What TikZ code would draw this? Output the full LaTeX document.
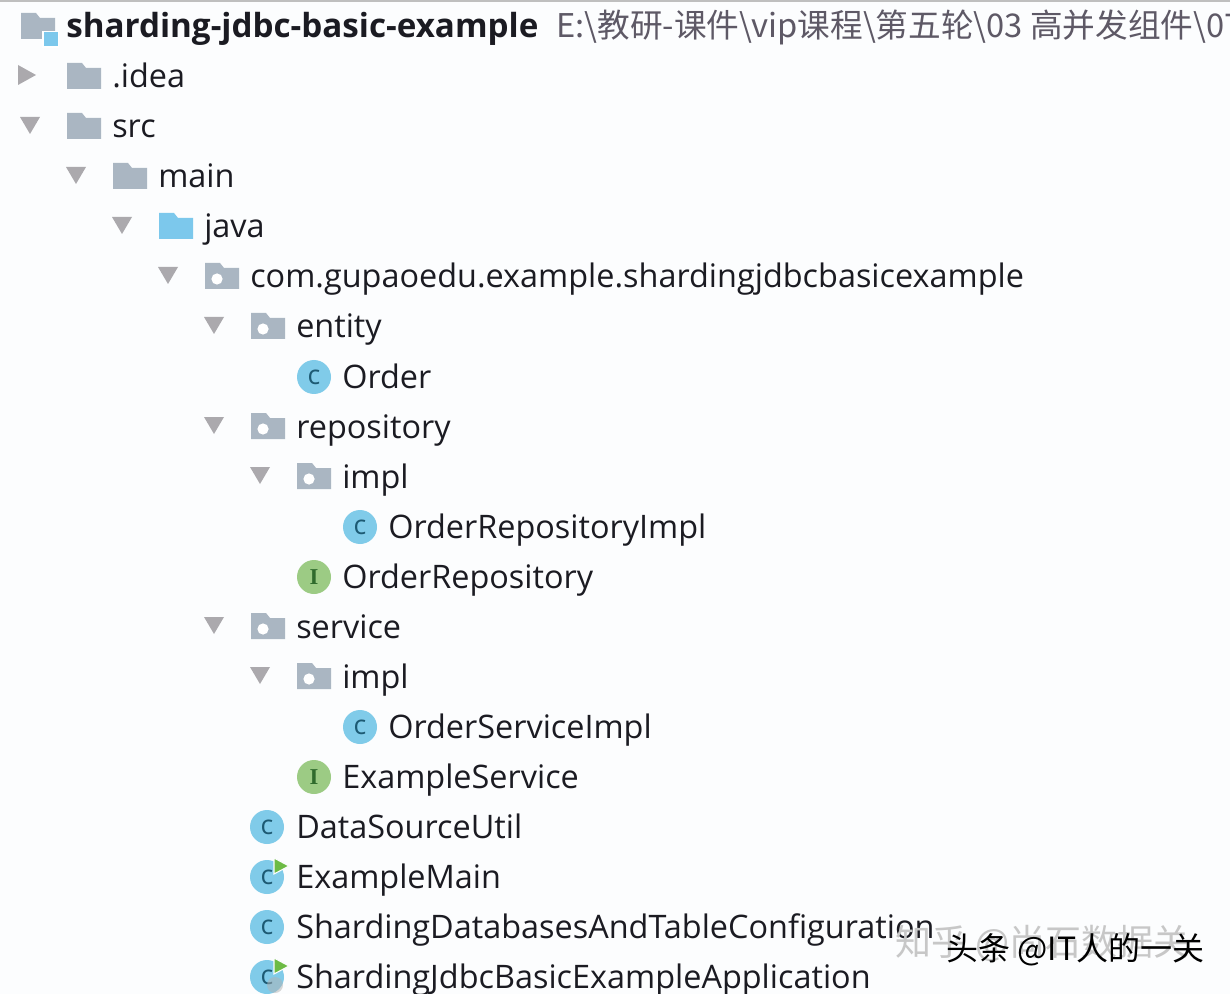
\documentclass[tikz,border=0pt]{standalone}
\usepackage{fontspec}
\setmainfont{Open Sans}
\newfontfamily\cjk{Noto Sans CJK SC}
\newfontfamily\iconserif{Liberation Serif}
\usetikzlibrary{positioning}
\definecolor{paper}{HTML}{FCFDFE}
\definecolor{folder}{HTML}{AAB6C2}
\definecolor{source}{HTML}{7CC8EC}
\definecolor{arrow}{HTML}{ABA9AD}
\definecolor{classblue}{HTML}{80CBE9}
\definecolor{classtext}{HTML}{1D5A73}
\definecolor{ifacegreen}{HTML}{9CCB84}
\definecolor{ifacetext}{HTML}{2F6B2C}
\definecolor{runarrow}{HTML}{6DBB45}
\definecolor{pathtext}{HTML}{5E5966}
\definecolor{labeltext}{HTML}{1B1B22}

\begin{document}
\begin{tikzpicture} [
    x=0.75pt, y=-0.75pt,
    entry/.style     = { anchor=base west, inner sep=0pt, text=labeltext,
                         font=\fontsize{24.3}{28}\selectfont },
    root/.style      = { entry, font=\fontsize{24.9}{28}\selectfont\bfseries },
    classicon/.style = { circle, fill=classblue, minimum size=25.5pt, inner sep=0pt,
                         text=classtext, font=\fontsize{20}{20}\selectfont },
    ifaceicon/.style = { circle, fill=ifacegreen, minimum size=25.5pt, inner sep=0pt,
                         text=ifacetext, font=\fontsize{17}{17}\selectfont\iconserif\bfseries },
    opened/.pic      = { \fill [arrow] (-10,-9) -- (10,-9) -- (0,8) -- cycle; },
    closed/.pic      = { \fill [arrow] (-9,-11) -- (9,-1) -- (-9,9) -- cycle; },
    dir/.pic         = { \fill [pic actions] (0,-13) -- (15,-13) -- (19,-8) -- (34,-8)
                         -- (34,13) -- (0,13) -- cycle; },
    pack/.pic        = { \fill [folder] (0,-13) -- (15,-13) -- (19,-8) -- (34,-8)
                         -- (34,13) -- (0,13) -- cycle;
                         \fill [white] (12,3) circle (4.2pt); },
    runmark/.pic     = { \filldraw [fill=runarrow, draw=paper, line width=0.8pt]
                         (-1,-8) -- (14,0) -- (-1,8) -- cycle; },
  ]
  \fill [paper] (0,0) rectangle (1230,994);
  \clip (0,0) rectangle (1230,994);
  \fill [black!25] (0,0) rectangle (1230,2);

  % project line
  \fill [folder] (21,13) -- (36,13) -- (40,18) -- (55,18) -- (55,39) -- (21,39) -- cycle;
  \fill [white] (42,31) rectangle (59,48);
  \fill [source] (43.5,32.5) rectangle (57.5,46.5);
  \node [root] (project) at (66,38) {sharding-jdbc-basic-example};
  \node [entry, text=pathtext, font=\fontsize{24.5}{28}\selectfont\cjk]
    (projectpath) at (556,38) {E:\textbackslash 教研-课件\textbackslash vip课程\textbackslash 第五轮\textbackslash 03 高并发组件\textbackslash 07};

  % tree rows
  \pic at (27,76) {closed};
  \pic [fill=folder] at (67,76) {dir};
  \node [entry] (idea) at (112,88) {.idea};

  \pic at (30,126) {opened};
  \pic [fill=folder] at (67,126) {dir};
  \node [entry] (src) at (112,138) {src};

  \pic at (76,176) {opened};
  \pic [fill=folder] at (113,176) {dir};
  \node [entry] (main) at (158,188) {main};

  \pic at (122,226) {opened};
  \pic [fill=source] at (159,226) {dir};
  \node [entry] (java) at (204,238) {java};

  \pic at (168,276) {opened};
  \pic at (205,276) {pack};
  \node [entry] (base) at (250,288) {com.gupaoedu.example.shardingjdbcbasicexample};

  \pic at (214,326) {opened};
  \pic at (251,326) {pack};
  \node [entry] (entity) at (296,338) {entity};

  \node [classicon] (orderc) at (314,377) {c};
  \node [entry] (order) at (342,388) {Order};

  \pic at (214,426) {opened};
  \pic at (251,426) {pack};
  \node [entry] (repository) at (296,438) {repository};

  \pic at (260,476) {opened};
  \pic at (297,476) {pack};
  \node [entry] (repoimpl) at (342,488) {impl};

  \node [classicon] (orderrepoimplc) at (360,527) {c};
  \node [entry] (orderrepoimpl) at (388,538) {OrderRepositoryImpl};

  \node [ifaceicon] (orderrepoi) at (314,577) {I};
  \node [entry] (orderrepo) at (342,588) {OrderRepository};

  \pic at (214,626) {opened};
  \pic at (251,626) {pack};
  \node [entry] (service) at (296,638) {service};

  \pic at (260,676) {opened};
  \pic at (297,676) {pack};
  \node [entry] (serviceimpl) at (342,688) {impl};

  \node [classicon] (orderservicec) at (360,727) {c};
  \node [entry] (orderservice) at (388,738) {OrderServiceImpl};

  \node [ifaceicon] (examplei) at (314,777) {I};
  \node [entry] (exampleservice) at (342,788) {ExampleService};

  \node [classicon] (utilc) at (267,827) {c};
  \node [entry] (util) at (296,838) {DataSourceUtil};

  \node [classicon] (mainc) at (267,877) {c};
  \pic at (275,866) {runmark};
  \node [entry] (examplemain) at (296,888) {ExampleMain};

  \node [classicon] (configc) at (267,927) {c};
  \node [entry] (config) at (296,938) {ShardingDatabasesAndTableConfiguration};

  \node [classicon] (appc) at (267,977) {c};
  \pic at (275,966) {runmark};
  \fill [black!30, opacity=.5] (275,985) circle (6pt);
  \node [entry] (app) at (296,988) {ShardingJdbcBasicExampleApplication};

  % watermarks
  \node [anchor=base west, inner sep=0pt, text=black!22, font=\fontsize{27}{30}\selectfont\cjk]
    (zhihu) at (895,955) {知乎 @尚石数据关};
  \node [anchor=base west, inner sep=0pt, text=black, font=\fontsize{24}{28}\selectfont\cjk]
    (toutiao) at (946,960) {头条 @IT人的一关};
\end{tikzpicture}
\end{document}
